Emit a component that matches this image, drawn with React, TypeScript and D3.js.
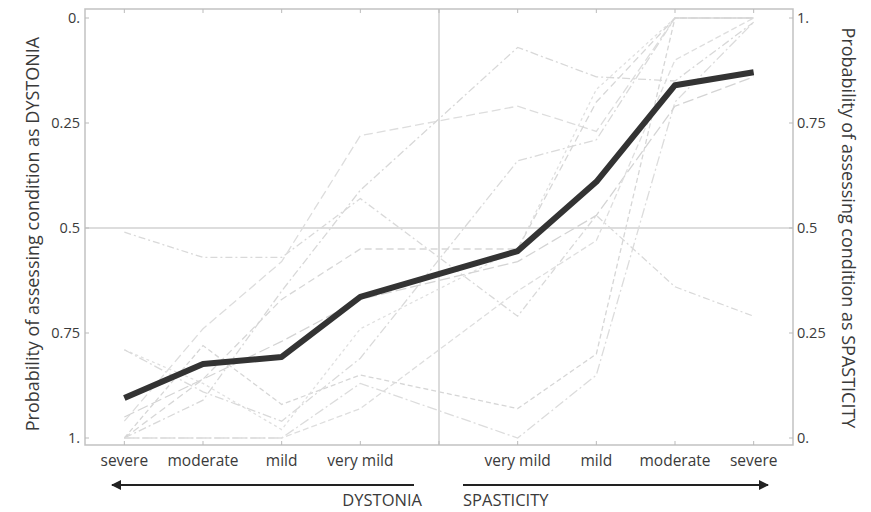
import React from "react";
import * as d3 from "d3";

// category labels along the x axis (index 4 is the central boundary, no label)
const categories = ["severe", "moderate", "mild", "very mild", "", "very mild", "mild", "moderate", "severe"];
// indices of the positions that carry data points
const dataIdx = [0, 1, 2, 3, 5, 6, 7, 8];

// probability of assessing the condition as SPASTICITY (right axis); left axis = 1 - value
const meanSeries = [0.095, 0.176, 0.193, 0.336, 0.445, 0.61, 0.84, 0.871];

const indiv1 = [0.49, 0.43, 0.43, 0.57, 0.29, 0.53, 0.36, 0.29];
const indiv2 = [0.04, 0.26, 0.42, 0.72, 0.79, 0.73, 1, 1];
const indiv3 = [0, 0.22, 0.08, 0.15, 0.07, 0.2, 1, 1];
const indiv4 = [0, 0, 0, 0.13, 0, 0.15, 0.8, 0.99];
const indiv5 = [0.21, 0.13, 0.02, 0.26, 0.45, 0.83, 1, 1];
const indiv6 = [0, 0.09, 0.35, 0.59, 0.93, 0.86, 0.85, 0.99];
const indiv7 = [0.05, 0.14, 0.23, 0.33, 0.42, 0.53, 0.79, 0.86];
const indiv8 = [0, 0, 0, 0.07, 0.35, 0.47, 0.9, 1];
const indiv9 = [0.21, 0.11, 0.04, 0.19, 0.66, 0.71, 1, 1];
const indiv10 = [0, 0.14, 0.33, 0.45, 0.45, 0.8, 1, 1];

const individuals = [indiv1, indiv2, indiv3, indiv4, indiv5, indiv6, indiv7, indiv8, indiv9, indiv10];

const yTicks = [0, 0.25, 0.5, 0.75, 1];
const leftTickLabels = ["1.", "0.75", "0.5", "0.25", "0."]; // dystonia = 1 - spasticity
const rightTickLabels = ["0.", "0.25", "0.5", "0.75", "1."];

const dashes = ["7,3,2,3", "9,4", "5,3", "10,3,2,3", "3,3", "8,3,2,3", "11,4", "6,3", "9,3,2,3", "7,4"];
const greys = ["#d9d9d9", "#dddddd", "#d6d6d6", "#dcdcdc", "#e0e0e0", "#d8d8d8", "#d4d4d4", "#dedede", "#dadada", "#d7d7d7"];

export default function App() {
  const W = 871;
  const H = 512;
  const left = 85;
  const right = 793;
  const top = 9;
  const bottom = 445;
  const x = d3.scaleLinear().domain([-0.5, 8.5]).range([left, right]);
  const y = d3.scaleLinear().domain([0, 1]).range([438, 18]);

  const line = d3
    .line<number>()
    .x((_, i) => x(dataIdx[i]))
    .y((d) => y(d));

  const font = "'Open Sans', 'Liberation Sans', sans-serif";
  const textCol = "#3a3a3a";

  return (
    <svg
      width={W}
      height={H}
      style={{ position: "fixed", left: 0, top: 0, background: "#fff" }}
      fontFamily={font}
    >
      <defs>
        <marker id="ah" viewBox="0 0 10 10" refX="9" refY="5" markerWidth="6.5" markerHeight="5" orient="auto-start-reverse" markerUnits="strokeWidth">
          <path d="M0,0 L10,5 L0,10 z" fill="#222" />
        </marker>
      </defs>
      <rect x={0} y={0} width={W} height={H} fill="#fff" />

      {/* grid lines */}
      <line x1={left} x2={right} y1={y(0.5)} y2={y(0.5)} stroke="#d2d2d2" strokeWidth={1.6} />
      <line x1={x(4)} x2={x(4)} y1={top} y2={bottom} stroke="#d2d2d2" strokeWidth={1.6} />

      {/* individual faint lines */}
      {individuals.map((s, i) => (
        <path
          key={i}
          d={line(s) || ""}
          fill="none"
          stroke={greys[i]}
          strokeWidth={1.3}
          strokeDasharray={dashes[i]}
        />
      ))}

      {/* mean line */}
      <path d={line(meanSeries) || ""} fill="none" stroke="#333" strokeWidth={6} strokeLinejoin="round" />

      {/* frame */}
      <rect x={left} y={top} width={right - left} height={bottom - top} fill="none" stroke="#c2c2c2" strokeWidth={1.5} />

      {/* x ticks top/bottom */}
      {categories.map((_, i) => (
        <g key={"xt" + i}>
          <line x1={x(i)} x2={x(i)} y1={bottom} y2={bottom - 4} stroke="#bbb" strokeWidth={1} />
          <line x1={x(i)} x2={x(i)} y1={top} y2={top + 4} stroke="#bbb" strokeWidth={1} />
        </g>
      ))}

      {/* y ticks */}
      {yTicks.map((t, i) => (
        <g key={"yt" + i}>
          <line x1={left} x2={left + 4} y1={y(t)} y2={y(t)} stroke="#bbb" strokeWidth={1} />
          <line x1={right} x2={right - 4} y1={y(t)} y2={y(t)} stroke="#bbb" strokeWidth={1} />
          <text x={80} y={y(t)} dy="0.35em" textAnchor="end" fontSize={14.5} fill={textCol}>
            {leftTickLabels[i]}
          </text>
          <text x={797} y={y(t)} dy="0.35em" textAnchor="start" fontSize={14.5} fill={textCol}>
            {rightTickLabels[i]}
          </text>
        </g>
      ))}

      {/* category labels */}
      {categories.map((c, i) =>
        c ? (
          <text key={"c" + i} x={x(i)} y={466} textAnchor="middle" fontSize={15.5} fill={textCol}>
            {c}
          </text>
        ) : null
      )}

      {/* axis titles */}
      <text
        transform={`translate(39,${y(0.5) + 6}) rotate(-90)`}
        textAnchor="middle"
        fontSize={18}
        fill={textCol}
      >
        Probability of assessing condition as DYSTONIA
      </text>
      <text
        transform={`translate(842,${y(0.5)}) rotate(90)`}
        textAnchor="middle"
        fontSize={18}
        fill={textCol}
      >
        Probability of assessing condition as SPASTICITY
      </text>

      {/* arrows */}
      <line x1={414} x2={112} y1={485} y2={485} stroke="#222" strokeWidth={2} markerEnd="url(#ah)" />
      <line x1={463} x2={768} y1={485} y2={485} stroke="#222" strokeWidth={2} markerEnd="url(#ah)" />
      <text x={422} y={506} textAnchor="end" fontSize={16.5} fill={textCol}>
        DYSTONIA
      </text>
      <text x={463} y={506} textAnchor="start" fontSize={16.5} fill={textCol}>
        SPASTICITY
      </text>
    </svg>
  );
}
